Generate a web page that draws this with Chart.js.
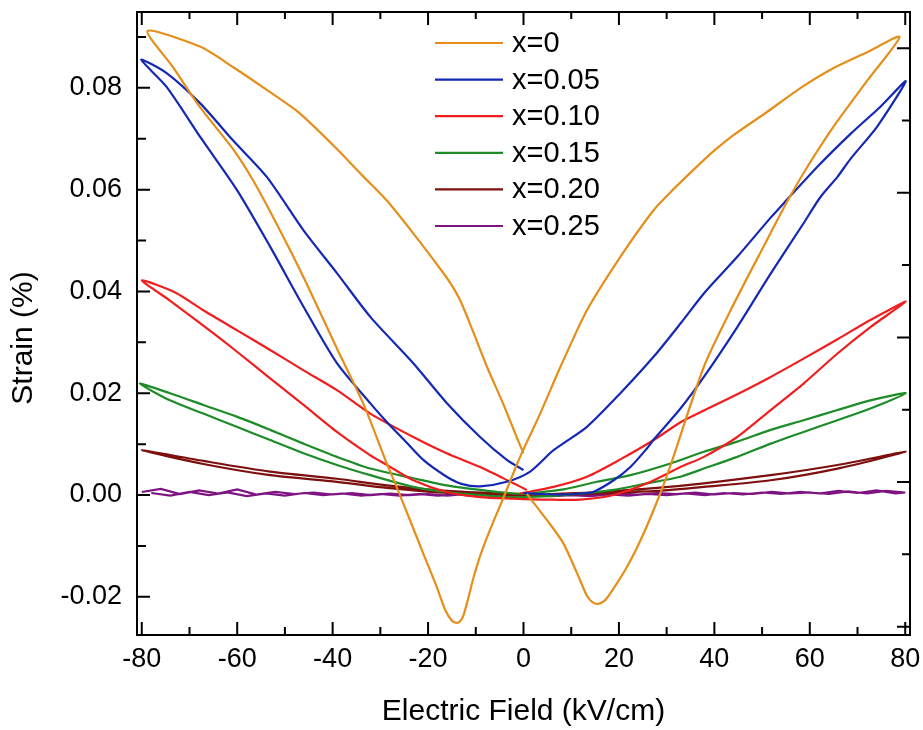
<!DOCTYPE html>
<html>
<head>
<meta charset="utf-8">
<script src="https://cdn.jsdelivr.net/npm/chart.js@4.4.1/dist/chart.umd.min.js"></script>
<style>
  html, body { margin: 0; padding: 0; background: #fff; }
  #wrap { width: 923px; height: 730px; }
</style>
</head>
<body>
<div id="wrap"><canvas id="strainChart" width="923" height="730"></canvas></div>
<script>
// butterfly loops, one path per composition: field (kV/cm) and strain (%)
const labels = ['x=0', 'x=0.05', 'x=0.10', 'x=0.15', 'x=0.20', 'x=0.25'];
const colors = ['#E58E1A', '#1428B4', '#F01E1E', '#1E8C28', '#7D0F0F', '#7D1482'];

const fieldX0 = [0.7, 4.9, 8.3, 11.2, 13.3, 14.5, 15.6, 16.8, 18.2, 21.7, 25.2, 28.7, 30.8, 37.8, 43.4, 50.3, 55.3, 59.5, 64.9, 72.1, 78.8,
  72.0, 65.0, 58.1, 51.1, 44.0, 39.9, 37.1, 30.8, 27.3, 20.3, 13.3, 7.7, 3.5, 0.4, -1.3, -3.8, -7.0, -9.1, -10.5, -11.5, -12.6, -13.3, -14.0, -15.0, -16.4, -18.2, -21.0, -23.8, -26.6, -28.7, -33.5, -39.1, -46.1, -51.7, -56.6, -60.9, -67.8, -73.5, -78.8,
  -67.8, -60.9, -53.8, -46.9, -39.1, -33.8, -28.6, -23.1, -17.5, -15.3, -13.3, -10.6, -7.7, -4.3, -1.4, 0.0];
const strainX0 = [0.0002, -0.0049, -0.0094, -0.0153, -0.0198, -0.0211, -0.0214, -0.0209, -0.0193, -0.0141, -0.0075, 0.0004, 0.0058, 0.0252, 0.0363, 0.0488, 0.0577, 0.0645, 0.0723, 0.0815, 0.0900,
  0.0870, 0.0839, 0.0800, 0.0753, 0.0707, 0.0676, 0.0652, 0.0595, 0.0560, 0.0468, 0.0363, 0.0251, 0.0160, 0.0098, 0.0062, 0.0004, -0.0068, -0.0120, -0.0163, -0.0200, -0.0237, -0.0248, -0.0251, -0.0247, -0.0226, -0.0180, -0.0115, -0.0049, 0.0016, 0.0063, 0.0178, 0.0288, 0.0428, 0.0532, 0.0617, 0.0680, 0.0762, 0.0841, 0.0912,
  0.0881, 0.0841, 0.0796, 0.0750, 0.0680, 0.0628, 0.0578, 0.0514, 0.0445, 0.0416, 0.0383, 0.0322, 0.0253, 0.0180, 0.0113, 0.0082];

const fieldX05 = [0.0, 4.0, 8.0, 12.0, 14.6, 18.9, 22.4, 25.9, 27.2, 32.9, 37.8, 44.8, 51.8, 58.7, 62.2, 65.8, 68.5, 74.2, 80.1,
  74.8, 68.6, 61.6, 55.0, 51.8, 44.8, 37.8, 32.9, 27.3, 20.3, 13.3, 6.3, 1.4, -3.5, -9.1, -13.0, -16.1, -21.0, -25.0, -28.6, -32.1, -39.1, -46.1, -53.1, -60.1, -67.5, -74.8, -80.1,
  -74.8, -67.8, -60.9, -53.8, -46.1, -39.1, -32.1, -23.1, -16.1, -9.1, -3.5, 0.0];
const strainX05 = [0.0004, 0.0002, 0.0001, 0.0003, 0.0006, 0.0029, 0.0055, 0.0092, 0.0108, 0.0170, 0.0232, 0.0330, 0.0435, 0.0534, 0.0585, 0.0625, 0.0660, 0.0725, 0.0813,
  0.0763, 0.0710, 0.0645, 0.0578, 0.0545, 0.0468, 0.0396, 0.0337, 0.0272, 0.0200, 0.0134, 0.0088, 0.0046, 0.0026, 0.0017, 0.0022, 0.0036, 0.0069, 0.0108, 0.0143, 0.0180, 0.0259, 0.0370, 0.0488, 0.0600, 0.0700, 0.0802, 0.0855,
  0.0829, 0.0770, 0.0697, 0.0625, 0.0520, 0.0436, 0.0350, 0.0259, 0.0181, 0.0114, 0.0069, 0.0049];

const fieldX10 = [0.7, -2.1, -9.1, -16.1, -23.1, -32.1, -39.1, -46.1, -53.1, -60.1, -67.1, -73.0, -80.0,
  -74.1, -67.1, -60.1, -53.1, -46.1, -39.1, -32.1, -28.6, -23.1, -16.1, -9.1, -2.1, 4.9, 11.9, 18.9, 25.9, 32.9, 37.8, 44.8, 51.8, 58.7, 65.8, 72.7, 80.1,
  72.7, 65.8, 58.7, 51.8, 44.8, 37.8, 32.9, 27.3, 20.3, 13.3, 6.3, -0.7];
const strainX10 = [0.0010, 0.0023, 0.0055, 0.0082, 0.0114, 0.0160, 0.0206, 0.0245, 0.0285, 0.0324, 0.0363, 0.0398, 0.0422,
  0.0382, 0.0333, 0.0282, 0.0229, 0.0177, 0.0124, 0.0078, 0.0059, 0.0029, 0.0006, -0.0004, -0.0007, -0.0009, -0.0009, 0.0000, 0.0023, 0.0055, 0.0075, 0.0114, 0.0167, 0.0219, 0.0278, 0.0330, 0.0380,
  0.0344, 0.0306, 0.0268, 0.0232, 0.0198, 0.0166, 0.0143, 0.0108, 0.0070, 0.0036, 0.0016, 0.0003];

const fieldX15 = [1.4, -2.1, -9.1, -16.1, -23.1, -32.1, -39.1, -46.1, -53.1, -60.1, -67.1, -74.1, -80.4,
  -74.1, -67.1, -60.1, -53.1, -46.1, -39.1, -32.1, -23.1, -16.1, -9.1, -2.1, 8.4, 18.9, 25.9, 32.9, 37.8, 44.8, 51.8, 58.7, 65.8, 72.7, 80.1,
  72.7, 65.8, 58.7, 51.8, 44.8, 37.8, 30.8, 22.4, 15.4, 8.4, 1.4];
const strainX15 = [0.0002, 0.0003, 0.0010, 0.0019, 0.0033, 0.0052, 0.0075, 0.0101, 0.0128, 0.0154, 0.0177, 0.0200, 0.0219,
  0.0186, 0.0160, 0.0134, 0.0108, 0.0082, 0.0059, 0.0039, 0.0016, 0.0006, 0.0000, -0.0004, 0.0000, 0.0010, 0.0023, 0.0036, 0.0052, 0.0075, 0.0101, 0.0124, 0.0147, 0.0170, 0.0200,
  0.0186, 0.0167, 0.0147, 0.0128, 0.0105, 0.0085, 0.0062, 0.0039, 0.0026, 0.0011, 0.0003];

const fieldX20 = [0.0, -5.0, -16.0, -28.6, -39.1, -53.1, -67.1, -80.0,
  -67.1, -53.1, -39.1, -28.6, -16.0, -5.0, 5.0, 16.0, 28.0, 37.8, 51.8, 65.8, 80.1,
  65.8, 51.8, 37.8, 28.0, 16.0, 5.0, 0.0];
const strainX20 = [0.0002, 0.0003, 0.0008, 0.0019, 0.0032, 0.0046, 0.0067, 0.0088,
  0.0061, 0.0039, 0.0026, 0.0014, 0.0004, 0.0000, -0.0001, 0.0003, 0.0008, 0.0016, 0.0029, 0.0052, 0.0085,
  0.0059, 0.0039, 0.0023, 0.0014, 0.0006, 0.0002];

const fieldX25 = [-80, -76, -72, -68, -64, -60, -56, -52, -48, -44, -40, -36, -32, -28, -24, -20, -16, -12, -8, -4, 0, 4, 8, 12, 16, 20, 24, 28, 32, 36, 40, 44, 48, 52, 56, 60, 64, 68, 72, 76, 80,
  78, 74, 70, 66, 62, 58, 54, 50, 46, 42, 38, 34, 30, 26, 22, 18, 14, 10, 6, 2, -2, -6, -10, -14, -18, -22, -26, -30, -34, -38, -42, -46, -50, -54, -58, -62, -66, -70, -74, -78];
const strainX25 = [0.0006, 0.0012, 0.0002, 0.0009, 0.0003, 0.0011, 0.0001, 0.0006, 0.0002, 0.0005, 0.0001, 0.0004, 0.0000, 0.0003, 0.0000, 0.0002, -0.0001, 0.0002, 0.0000, 0.0001, -0.0001, 0.0001, -0.0001, 0.0002, 0.0000, 0.0003, 0.0001, 0.0004, 0.0002, 0.0005, 0.0001, 0.0004, 0.0002, 0.0006, 0.0003, 0.0005, 0.0002, 0.0007, 0.0003, 0.0008, 0.0005,
  0.0003, 0.0009, 0.0004, 0.0008, 0.0003, 0.0006, 0.0002, 0.0005, 0.0001, 0.0004, 0.0000, 0.0003, 0.0000, 0.0002, -0.0001, 0.0001, -0.0002, 0.0000, -0.0002, 0.0000, -0.0001, 0.0001, -0.0002, 0.0001, -0.0001, 0.0002, -0.0001, 0.0002, -0.0001, 0.0003, 0.0000, 0.0004, -0.0001, 0.0003, -0.0002, 0.0005, 0.0000, 0.0006, -0.0001, 0.0004];

const fields = [fieldX0, fieldX05, fieldX10, fieldX15, fieldX20, fieldX25];
const strains = [strainX0, strainX05, strainX10, strainX15, strainX20, strainX25];

const xTickValues = [-80, -70, -60, -50, -40, -30, -20, -10, 0, 10, 20, 30, 40, 50, 60, 70, 80];
const yTickValues = [-0.02, -0.01, 0, 0.01, 0.02, 0.03, 0.04, 0.05, 0.06, 0.07, 0.08, 0.09];
const rightTickValues = [0, 1, 2, 3, 4, 5, 6, 7, 8];

const FONT = '"Liberation Sans", Arial, sans-serif';
Chart.defaults.font.family = FONT;
Chart.defaults.color = '#000';

const datasets = labels.map((label, i) => ({
  label: label,
  data: fields[i].map((e, j) => ({ x: e, y: strains[i][j] })),
  showLine: true,
  borderColor: colors[i],
  backgroundColor: colors[i],
  borderWidth: 2.2,
  pointRadius: 0,
  tension: i === 5 ? 0 : 0.25
}));

// frame with inward ticks on all four sides, y title and legend
const frameTicks = {
  id: 'frameTicks',
  afterDatasetsDraw(chart) {
    const { ctx, chartArea: a, scales } = chart;
    ctx.save();
    ctx.strokeStyle = '#000';
    ctx.lineWidth = 2;
    ctx.beginPath();
    xTickValues.forEach(v => {
      const px = scales.x.getPixelForValue(v);
      const major = v % 20 === 0;
      ctx.moveTo(px, a.bottom); ctx.lineTo(px, a.bottom - (major ? 13 : 8));
      ctx.moveTo(px, a.top); ctx.lineTo(px, a.top + (major ? 13 : 7));
    });
    yTickValues.forEach(v => {
      const py = scales.y.getPixelForValue(v);
      const major = Math.round(v * 100) % 2 === 0;
      ctx.moveTo(a.left, py); ctx.lineTo(a.left + (major ? 13 : 9), py);
    });
    rightTickValues.forEach(v => {
      const py = scales.yRight.getPixelForValue(v);
      ctx.moveTo(a.right, py); ctx.lineTo(a.right - (v % 2 === 0 ? 13 : 8), py);
    });
    ctx.stroke();
    ctx.strokeRect(a.left, a.top, a.right - a.left, a.bottom - a.top);
    ctx.restore();
  },
  afterDraw(chart) {
    const { ctx, chartArea: a } = chart;
    ctx.save();
    ctx.font = '30px ' + FONT;
    ctx.fillStyle = '#000';
    ctx.textAlign = 'center';
    ctx.textBaseline = 'middle';
    ctx.translate(24, 338);
    ctx.rotate(-Math.PI / 2);
    ctx.fillText('Strain (%)', 0, 0);
    ctx.restore();

    ctx.save();
    ctx.font = '29px ' + FONT;
    ctx.textBaseline = 'middle';
    ctx.textAlign = 'left';
    ctx.fillStyle = '#000';
    chart.data.datasets.forEach((ds, i) => {
      const y = a.top + 31 + i * 36.6;
      ctx.strokeStyle = ds.borderColor;
      ctx.lineWidth = 2.2;
      ctx.beginPath();
      ctx.moveTo(a.left + 298, y);
      ctx.lineTo(a.left + 366, y);
      ctx.stroke();
      ctx.fillText(ds.label, a.left + 375, y + 1);
    });
    ctx.restore();
  }
};

new Chart(document.getElementById('strainChart').getContext('2d'), {
  type: 'scatter',
  data: { datasets: datasets },
  options: {
    responsive: false,
    animation: false,
    layout: { padding: { left: 0, right: 13, top: 12, bottom: 0 } },
    plugins: { legend: { display: false }, tooltip: { enabled: false } },
    scales: {
      x: {
        type: 'linear',
        min: -81,
        max: 81,
        afterBuildTicks: s => { s.ticks = xTickValues.map(v => ({ value: v })); },
        afterFit: s => { s.height = 95; s.paddingLeft = 0; s.paddingRight = 0; },
        grid: { display: false, drawTicks: false },
        border: { display: false },
        ticks: {
          autoSkip: false,
          maxRotation: 0,
          padding: 8,
          font: { size: 27 },
          callback: v => (v % 20 === 0 ? String(v) : '')
        },
        title: {
          display: true,
          text: 'Electric Field (kV/cm)',
          font: { size: 30 },
          padding: { top: 0, bottom: 0 }
        }
      },
      y: {
        type: 'linear',
        min: -0.0275,
        max: 0.0949,
        afterBuildTicks: s => { s.ticks = yTickValues.map(v => ({ value: v })); },
        afterFit: s => { s.width = 137; s.paddingTop = 0; s.paddingBottom = 0; },
        grid: { display: false, drawTicks: false },
        border: { display: false },
        ticks: {
          autoSkip: false,
          padding: 15,
          font: { size: 27 },
          callback: v => (Math.round(v * 100) % 2 === 0 ? v.toFixed(2) : '')
        }
      },
      yRight: {
        type: 'linear',
        position: 'right',
        min: -0.115,
        max: 8.5,
        afterBuildTicks: s => { s.ticks = rightTickValues.map(v => ({ value: v })); },
        afterFit: s => { s.width = 0; s.paddingTop = 0; s.paddingBottom = 0; },
        grid: { display: false, drawTicks: false },
        border: { display: false },
        ticks: { display: false }
      }
    }
  },
  plugins: [frameTicks]
});
</script>
</body>
</html>
